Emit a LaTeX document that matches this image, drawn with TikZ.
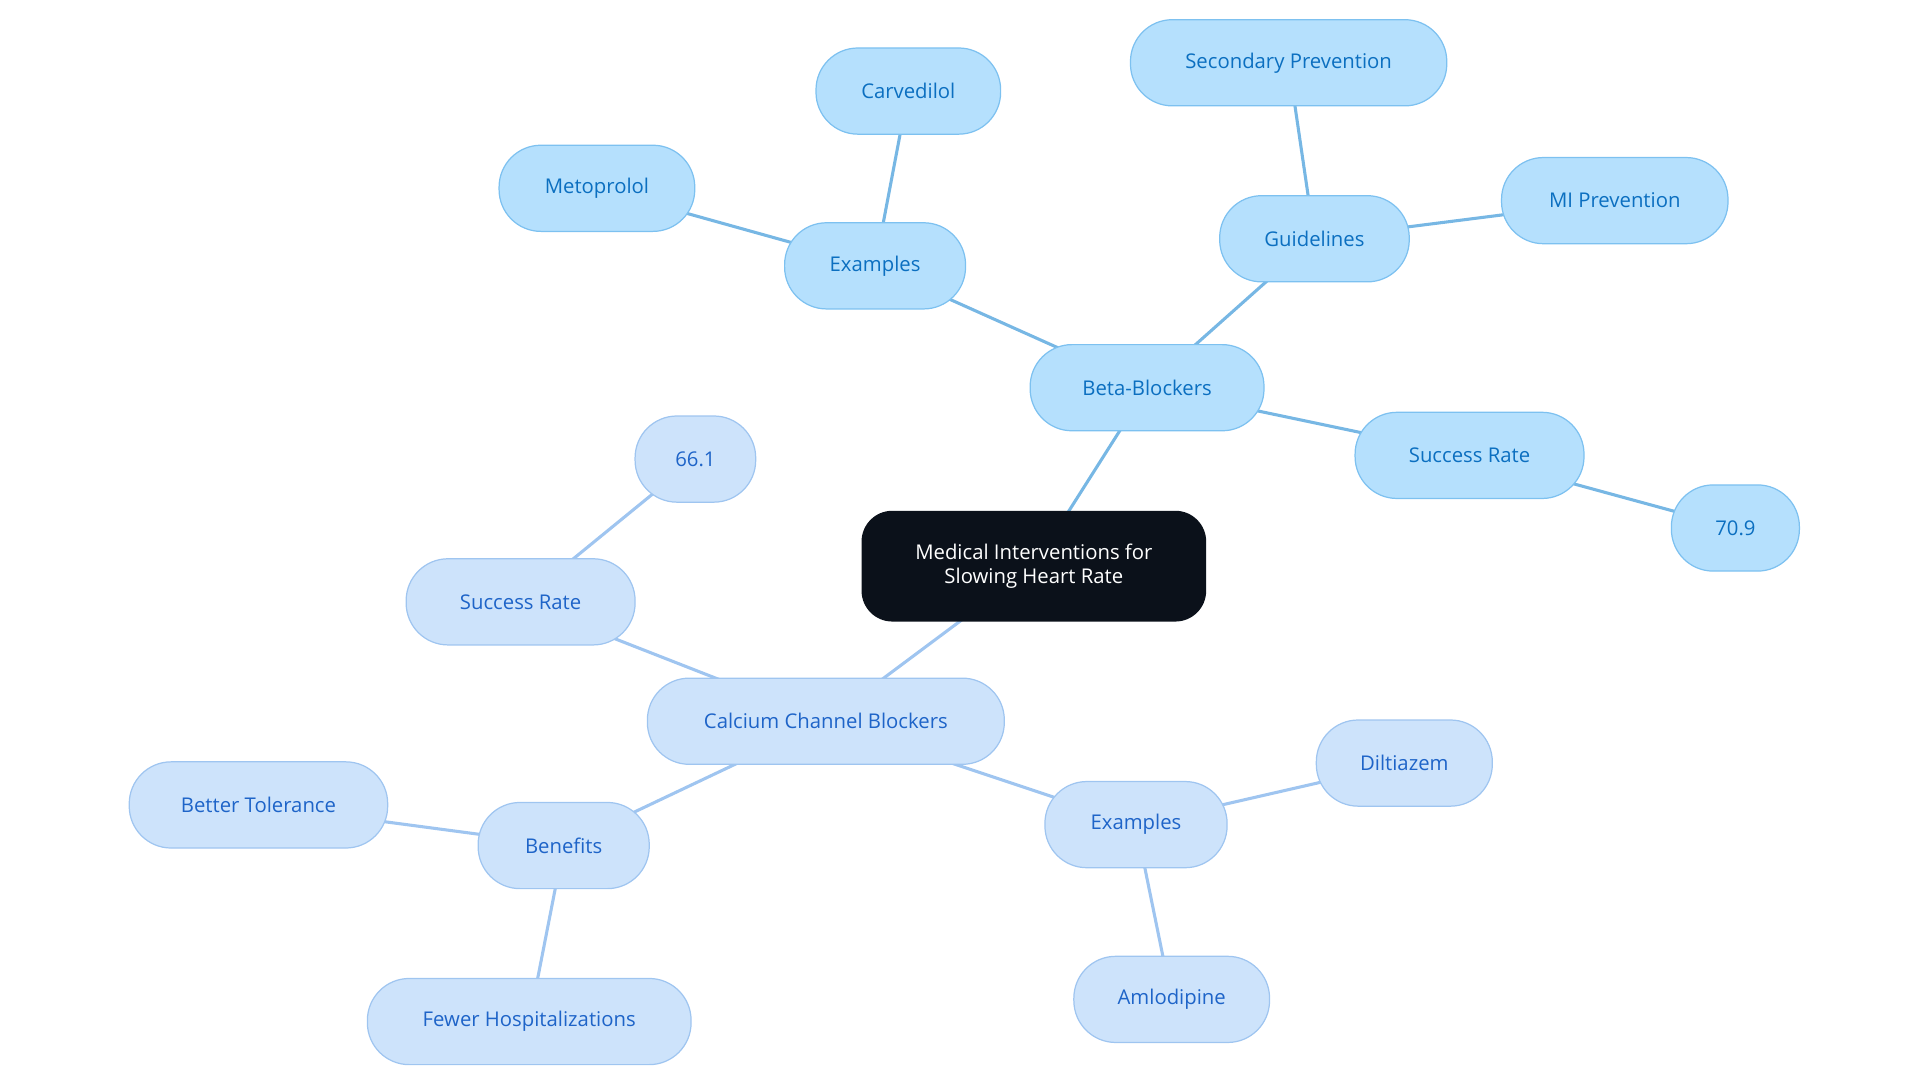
\documentclass[tikz,border=0pt]{standalone}
\usepackage{fontspec}
\setmainfont{Open Sans}
\usetikzlibrary{backgrounds}
\definecolor{bbfill}{HTML}{B5E0FD}
\definecolor{bbdraw}{HTML}{7DC1F0}
\definecolor{bbtext}{HTML}{0B6FC0}
\definecolor{ccfill}{HTML}{CDE3FB}
\definecolor{ccdraw}{HTML}{9FC5F0}
\definecolor{cctext}{HTML}{1E64C8}
\definecolor{dark}{HTML}{0B111A}
\begin{document}
\begin{tikzpicture}[x=1pt,y=-1pt,
  base/.style={rounded corners=34pt,inner sep=0pt,minimum height=70pt,line width=1pt,font=\fontsize{16.5}{19}\selectfont,align=center},
  bb/.style={base,fill=bbfill,draw=bbdraw,text=bbtext},
  cc/.style={base,fill=ccfill,draw=ccdraw,text=cctext},
  bbe/.style={draw=bbdraw!95!black,line width=2.5pt},
  cce/.style={draw=ccdraw,line width=2.5pt}]
\useasboundingbox (0,0) rectangle (1560,880);
\node[base,fill=dark,text=white,rounded corners=25pt,minimum width=280pt,minimum height=90pt] (root) at (840,460) {Medical Interventions for\\Slowing Heart Rate};
\node[bb,minimum width=190pt] (bb) at (932,315) {Beta-Blockers};
\node[bb,minimum width=147pt] (bex) at (711,216) {Examples};
\node[bb,minimum width=150pt] (carv) at (738,74) {Carvedilol};
\node[bb,minimum width=159pt] (meto) at (485,153) {Metoprolol};
\node[bb,minimum width=154pt] (guid) at (1068,194) {Guidelines};
\node[bb,minimum width=257pt] (sec) at (1047,51) {Secondary Prevention};
\node[bb,minimum width=184pt] (mi) at (1312,163) {MI Prevention};
\node[bb,minimum width=186pt] (bsr) at (1194,370) {Success Rate};
\node[bb,minimum width=104pt] (b709) at (1410,429) {70.9};
\node[cc,minimum width=290pt] (ccb) at (671,586) {Calcium Channel Blockers};
\node[cc,minimum width=186pt] (csr) at (423,489) {Success Rate};
\node[cc,minimum width=98pt] (c661) at (565,373) {66.1};
\node[cc,minimum width=139pt] (ben) at (458,687) {Benefits};
\node[cc,minimum width=210pt] (tol) at (210,654) {Better Tolerance};
\node[cc,minimum width=263pt] (hosp) at (430,830) {Fewer Hospitalizations};
\node[cc,minimum width=148pt] (cex) at (923,670) {Examples};
\node[cc,minimum width=143pt] (dil) at (1141,620) {Diltiazem};
\node[cc,minimum width=159pt] (aml) at (952,812) {Amlodipine};
\begin{scope}[on background layer]
\draw[bbe] (root.center) -- (bb.center);
\draw[bbe] (bb.center) -- (bex.center);
\draw[bbe] (bex.center) -- (carv.center);
\draw[bbe] (bex.center) -- (meto.center);
\draw[bbe] (bb.center) -- (guid.center);
\draw[bbe] (guid.center) -- (sec.center);
\draw[bbe] (guid.center) -- (mi.center);
\draw[bbe] (bb.center) -- (bsr.center);
\draw[bbe] (bsr.center) -- (b709.center);
\draw[cce] (root.center) -- (ccb.center);
\draw[cce] (ccb.center) -- (csr.center);
\draw[cce] (csr.center) -- (c661.center);
\draw[cce] (ccb.center) -- (ben.center);
\draw[cce] (ben.center) -- (tol.center);
\draw[cce] (ben.center) -- (hosp.center);
\draw[cce] (ccb.center) -- (cex.center);
\draw[cce] (cex.center) -- (dil.center);
\draw[cce] (cex.center) -- (aml.center);
\end{scope}
\end{tikzpicture}
\end{document}
